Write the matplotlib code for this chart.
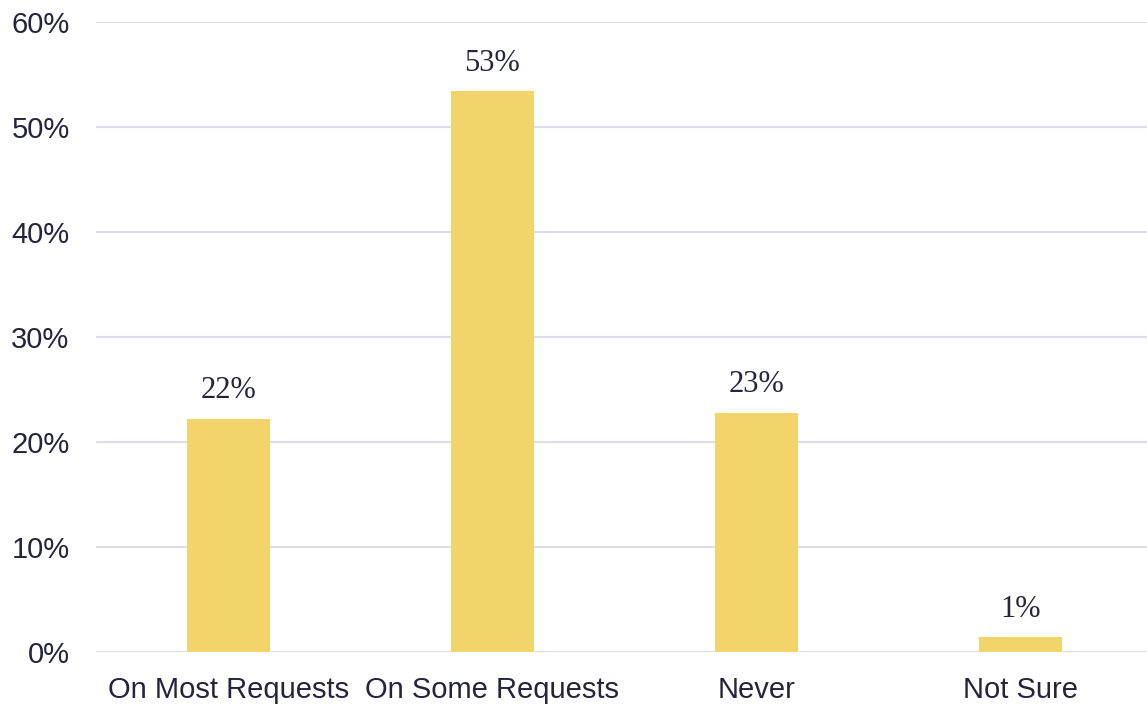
import matplotlib.pyplot as plt

categories = ['On Most Requests', 'On Some Requests', 'Never', 'Not Sure']
shares = [22.2, 53.4, 22.8, 1.4]
yticks = [0, 10, 20, 30, 40, 50, 60]

text_color = '#25243f'
bar_color = '#f2d46b'
grid_color = '#dddbec'

fig = plt.figure(figsize=(11.47, 7.04), dpi=100)
ax = fig.add_axes([0.0837, 0.0739, 0.9215, 0.8948])

x = range(len(categories))
bars = ax.bar(x, shares, width=0.315, color=bar_color, zorder=3)

for b, v in zip(bars, shares):
    ax.text(b.get_x() + b.get_width() / 2, v + 1.3, f'{v:.0f}%',
            ha='center', va='bottom', fontsize=22, color=text_color,
            family='Liberation Serif')

ax.set_xlim(-0.5, len(categories) - 0.5)
ax.set_ylim(0, 60)
ax.set_yticks(yticks)
ax.set_yticklabels([f'{t}%' for t in yticks])
ax.set_xticks(list(x))
ax.set_xticklabels(categories)

ax.grid(axis='y', color=grid_color, linewidth=1.5, zorder=0)
ax.tick_params(axis='both', length=0, labelsize=21, colors=text_color)
ax.tick_params(axis='y', pad=19)
ax.tick_params(axis='x', pad=17)
for lbl in ax.get_xticklabels() + ax.get_yticklabels():
    lbl.set_family('Liberation Sans')
for s in ax.spines.values():
    s.set_visible(False)

fig.savefig('out.png', dpi=100)
